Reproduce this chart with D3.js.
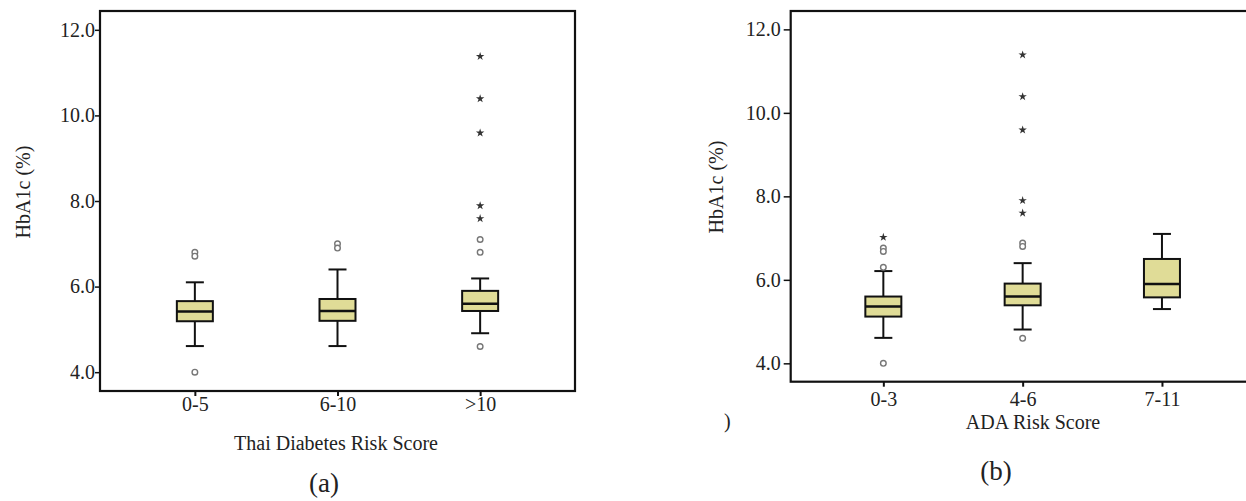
<!DOCTYPE html>
<html>
<head>
<meta charset="utf-8">
<script src="https://cdn.jsdelivr.net/npm/d3@7"></script>
<style>
  body { margin: 0; background: #fff; }
  svg { display: block; }
  text { font-family: "Liberation Serif", "Times New Roman", serif; fill: #222; }
</style>
</head>
<body>
<svg id="chart_svg"></svg>
<script>
// Panel (a): Thai Diabetes Risk Score
const thaiCats = ["0-5", "6-10", ">10"];
const thaiLow = [4.61, 4.61, 4.91];
const thaiQ1 = [5.19, 5.20, 5.43];
const thaiMedian = [5.42, 5.43, 5.60];
const thaiQ3 = [5.66, 5.71, 5.90];
const thaiHigh = [6.10, 6.40, 6.19];
const thaiOutliers = [[6.80, 6.71, 4.0], [7.0, 6.90], [7.10, 6.80, 4.60]];
const thaiExtremes = [[], [], [11.38, 10.39, 9.59, 7.89, 7.59]];

// Panel (b): ADA Risk Score
const adaCats = ["0-3", "4-6", "7-11"];
const adaLow = [4.61, 4.81, 5.30];
const adaQ1 = [5.12, 5.39, 5.58];
const adaMedian = [5.36, 5.60, 5.90];
const adaQ3 = [5.60, 5.91, 6.50];
const adaHigh = [6.21, 6.40, 7.10];
const adaOutliers = [[6.30, 6.76, 6.68, 4.0], [6.88, 6.80, 4.60], []];
const adaExtremes = [[7.02], [11.39, 10.39, 9.59, 7.90, 7.60], []];

const yTicks = [4, 6, 8, 10, 12];

const width = 1246, height = 501;
const svg = d3.select("#chart_svg").attr("width", width).attr("height", height);

function drawPanel(opt) {
  const g = svg.append("g");
  const x = d3.scalePoint().domain(opt.cats).range([opt.left, opt.right]).padding(0.665);
  const y = d3.scaleLinear().domain([3.56, 12.44]).range([opt.bottom, opt.top]);

  const rows = opt.cats.map((c, i) => ({
    cat: c, low: opt.low[i], q1: opt.q1[i], med: opt.med[i], q3: opt.q3[i], high: opt.high[i],
    outliers: opt.outliers[i], extremes: opt.extremes[i]
  }));

  // y axis
  const yAxis = g.append("g")
    .attr("transform", `translate(${opt.left},0)`)
    .call(d3.axisLeft(y).tickValues(yTicks).tickFormat(d3.format(".1f"))
      .tickSize(opt.yTickSize).tickPadding(opt.yTickPad));
  yAxis.select(".domain").remove();
  yAxis.selectAll("line").attr("stroke", "#111").attr("stroke-width", 1.5);
  yAxis.selectAll("text").attr("font-size", 20).attr("font-family", "Liberation Serif").attr("fill", "#222");

  // x axis
  const xAxis = g.append("g")
    .attr("transform", `translate(0,${opt.bottom})`)
    .call(d3.axisBottom(x).tickSize(5).tickPadding(opt.xTickPad));
  xAxis.select(".domain").remove();
  xAxis.selectAll("line").attr("stroke", "#111").attr("stroke-width", 2);
  xAxis.selectAll("text").attr("font-size", 20).attr("font-family", "Liberation Serif").attr("fill", "#222");

  // frame
  g.append("rect")
    .attr("x", opt.left).attr("y", opt.top)
    .attr("width", opt.right - opt.left).attr("height", opt.bottom - opt.top)
    .attr("fill", "none").attr("stroke", "#111").attr("stroke-width", 2.2);

  const boxW = 36, capW = 18;
  const box = g.append("g").selectAll("g").data(rows).enter().append("g");

  // whiskers
  box.append("line")
    .attr("x1", d => x(d.cat)).attr("x2", d => x(d.cat))
    .attr("y1", d => y(d.high)).attr("y2", d => y(d.q3))
    .attr("stroke", "#111").attr("stroke-width", 2);
  box.append("line")
    .attr("x1", d => x(d.cat)).attr("x2", d => x(d.cat))
    .attr("y1", d => y(d.q1)).attr("y2", d => y(d.low))
    .attr("stroke", "#111").attr("stroke-width", 2);
  box.selectAll(".cap").data(d => [d.low, d.high].map(v => ({cat: d.cat, v}))).enter().append("line")
    .attr("class", "cap")
    .attr("x1", d => x(d.cat) - capW / 2).attr("x2", d => x(d.cat) + capW / 2)
    .attr("y1", d => y(d.v)).attr("y2", d => y(d.v))
    .attr("stroke", "#111").attr("stroke-width", 2);

  // boxes
  box.append("rect")
    .attr("x", d => x(d.cat) - boxW / 2).attr("width", boxW)
    .attr("y", d => y(d.q3)).attr("height", d => y(d.q1) - y(d.q3))
    .attr("fill", "#e0dc97").attr("stroke", "#111").attr("stroke-width", 2);
  box.append("line")
    .attr("x1", d => x(d.cat) - boxW / 2).attr("x2", d => x(d.cat) + boxW / 2)
    .attr("y1", d => y(d.med)).attr("y2", d => y(d.med))
    .attr("stroke", "#111").attr("stroke-width", 2.5);

  // outliers
  box.selectAll(".out").data(d => d.outliers.map(v => ({cat: d.cat, v}))).enter().append("circle")
    .attr("class", "out")
    .attr("cx", d => x(d.cat)).attr("cy", d => y(d.v)).attr("r", 2.8)
    .attr("fill", "#fff").attr("stroke", "#777").attr("stroke-width", 1.4);

  // extremes
  const star = d3.symbol().type(d3.symbolStar).size(22);
  box.selectAll(".ext").data(d => d.extremes.map(v => ({cat: d.cat, v}))).enter().append("path")
    .attr("class", "ext")
    .attr("d", star)
    .attr("transform", d => `translate(${x(d.cat)},${y(d.v)})`)
    .attr("fill", "#333");

  // titles
  g.append("text")
    .attr("transform", `translate(${opt.yTitleX},${opt.yTitleY}) rotate(-90)`)
    .attr("text-anchor", "middle").attr("dy", "0.35em")
    .attr("font-size", 20)
    .text("HbA1c (%)");
  g.append("text")
    .attr("x", opt.xTitleX).attr("y", opt.xTitleY)
    .attr("text-anchor", "middle")
    .attr("font-size", 20)
    .text(opt.xTitle);
  g.append("text")
    .attr("x", opt.labelX).attr("y", opt.labelY)
    .attr("text-anchor", "middle")
    .attr("font-size", 27)
    .text(opt.label);
}

drawPanel({
  cats: thaiCats, low: thaiLow, q1: thaiQ1, med: thaiMedian, q3: thaiQ3, high: thaiHigh,
  outliers: thaiOutliers, extremes: thaiExtremes,
  left: 100, right: 575, top: 11, bottom: 391,
  yTickSize: 5, yTickPad: 0, xTickPad: 1,
  yTitleX: 23, yTitleY: 192,
  xTitle: "Thai Diabetes Risk Score", xTitleX: 336, xTitleY: 450,
  label: "(a)", labelX: 324, labelY: 492
});

drawPanel({
  cats: adaCats, low: adaLow, q1: adaQ1, med: adaMedian, q3: adaQ3, high: adaHigh,
  outliers: adaOutliers, extremes: adaExtremes,
  left: 790.7, right: 1254.6, top: 11, bottom: 381.7,
  yTickSize: 7, yTickPad: 3, xTickPad: 5,
  yTitleX: 716, yTitleY: 187,
  xTitle: "ADA Risk Score", xTitleX: 1033, xTitleY: 429,
  label: "(b)", labelX: 996, labelY: 480
});

// stray bracket fragment left of panel (b)
svg.append("text")
  .attr("x", 724).attr("y", 428)
  .attr("font-size", 20)
  .text(")");
</script>
</body>
</html>
